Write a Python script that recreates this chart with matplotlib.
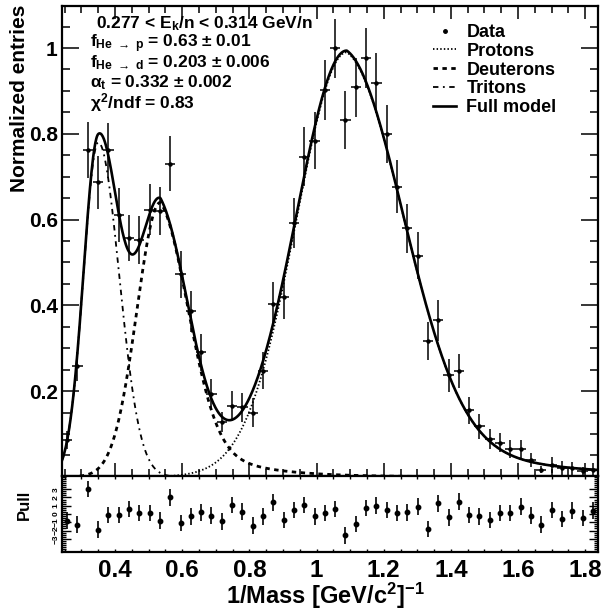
import numpy as np
import matplotlib
matplotlib.use('Agg')
import matplotlib.pyplot as plt
from matplotlib.lines import Line2D
from matplotlib.ticker import MultipleLocator, FixedLocator, FuncFormatter

plt.rcParams['font.family'] = ['Liberation Sans', 'DejaVu Sans']
plt.rcParams['font.weight'] = 'bold'
plt.rcParams['mathtext.fontset'] = 'custom'
plt.rcParams['mathtext.rm'] = 'Liberation Sans:bold'
plt.rcParams['mathtext.it'] = 'Liberation Sans:bold'
plt.rcParams['mathtext.bf'] = 'Liberation Sans:bold'
plt.rcParams['mathtext.sf'] = 'Liberation Sans:bold'

# binning in 1/mass
x_lo, x_hi, n_bins = 0.242, 1.838, 52

# normalized entries per bin and their errors
counts = [0.086, 0.258, 0.762, 0.687, 0.762, 0.611, 0.557, 0.553, 0.623, 0.621,
          0.730, 0.472, 0.386, 0.290, 0.193, 0.128, 0.165, 0.162, 0.150, 0.247,
          0.403, 0.419, 0.592, 0.747, 0.784, 0.902, 0.999, 0.832, 0.908, 0.977,
          0.919, 0.800, 0.677, 0.580, 0.516, 0.317, 0.365, 0.237, 0.247, 0.155,
          0.118, 0.088, 0.080, 0.065, 0.065, 0.040, 0.017, 0.027, 0.020, 0.020,
          0.014, 0.017]
errors = [0.022, 0.034, 0.066, 0.062, 0.064, 0.063, 0.054, 0.056, 0.060, 0.056,
          0.064, 0.054, 0.048, 0.043, 0.035, 0.023, 0.035, 0.033, 0.033, 0.043,
          0.051, 0.051, 0.058, 0.068, 0.066, 0.070, 0.068, 0.068, 0.068, 0.070,
          0.070, 0.067, 0.062, 0.057, 0.054, 0.045, 0.048, 0.039, 0.039, 0.031,
          0.029, 0.023, 0.023, 0.021, 0.021, 0.016, 0.009, 0.019, 0.017, 0.015,
          0.010, 0.015]
pulls = [-0.8, -1.3, 3.0, -1.9, -0.1, -0.1, 0.6, 0.1, 0.1, -0.8,
         2.0, -1.1, -0.3, 0.2, -0.2, -0.9, 1.1, 0.3, -1.4, -0.3,
         1.4, -0.7, 0.5, 1.1, -0.3, 0.1, 0.6, -2.6, -1.2, 0.7,
         1.0, 0.5, 0.1, 0.2, 0.9, -1.8, 1.3, -0.4, 1.5, -0.1,
         -0.3, -0.7, 0.1, 0.1, 0.9, -0.2, -1.3, 0.5, -0.6, 0.4,
         -0.5, 0.4]

# fit components: amplitude, mean, sigma left, sigma right, tail fraction, tail length
tritons = [0.78, 0.350, 0.044, 0.062, 0.0, 1.0]
deuterons = [0.64, 0.535, 0.070, 0.085, 0.25, 0.15]
protons = [0.99, 1.09, 0.150, 0.172, 0.167, 0.32]

edges = np.linspace(x_lo, x_hi, n_bins + 1)
centers = 0.5 * (edges[1:] + edges[:-1])
half = 0.5 * (edges[1] - edges[0])


def component(u, amp, mu, sl, sr, f, tau):
    d = np.clip(u - mu, 0, None)
    left = amp * np.exp(-0.5 * ((u - mu) / sl) ** 2)
    right = amp * ((1 - f) * np.exp(-0.5 * (d / sr) ** 2) + f * np.exp(-d / tau))
    return np.where(u < mu, left, right)


u = np.linspace(x_lo, x_hi, 1000)
T = component(u, *tritons)
D = component(u, *deuterons)
P = component(u, *protons)

W, H = 608, 610
fig = plt.figure(figsize=(W / 100, H / 100), dpi=100)
ax = fig.add_axes([62 / W, 1 - 476 / H, (598 - 62) / W, (476 - 6) / H])
axp = fig.add_axes([62 / W, 1 - 552 / H, (598 - 62) / W, 76 / H], sharex=ax)

ls_p = (0, (0.8, 1.2))
ls_d = (0, (1.6, 1.6))
ls_t = (0, (3, 2.5, 1, 2.5))
ax.plot(u, P, color='k', ls=ls_p, lw=1.3)
ax.plot(u, D, color='k', ls=ls_d, lw=2.0)
ax.plot(u, T, color='k', ls=ls_t, lw=1.3)
ax.plot(u, P + D + T, color='k', lw=1.9)
ax.errorbar(centers, counts, xerr=half, yerr=errors, fmt='o', ms=2.2, color='k',
            elinewidth=1.1, capsize=0)

ax.set_xlim(x_lo, x_hi)
ax.set_ylim(0.002, 1.098)
ax.xaxis.set_major_locator(MultipleLocator(0.2))
ax.xaxis.set_minor_locator(MultipleLocator(0.05))
ax.yaxis.set_major_locator(MultipleLocator(0.2))
ax.yaxis.set_minor_locator(MultipleLocator(0.05))
ax.yaxis.set_major_formatter(FuncFormatter(lambda v, p: f'{v:g}'))
ax.tick_params(which='both', direction='in', top=True, right=True, width=1.1)
ax.tick_params(axis='y', which='major', length=12, labelsize=15, pad=3)
ax.tick_params(axis='y', which='minor', length=6)
ax.tick_params(axis='x', which='major', length=9.5)
ax.tick_params(axis='x', which='minor', length=5)
ax.tick_params(axis='x', labelbottom=False)

axp.errorbar(centers, pulls, yerr=1, fmt='o', ms=3.2, color='k', elinewidth=1.2,
             capsize=0)
axp.set_ylim(-4.6, 4.6)
axp.yaxis.set_major_locator(FixedLocator([-3, -2, -1, 0, 1, 2, 3]))
axp.yaxis.set_minor_locator(MultipleLocator(0.25))
axp.xaxis.set_major_formatter(FuncFormatter(lambda v, p: f'{v:g}'))
axp.tick_params(which='both', direction='in', top=True, right=True, width=1.0)
axp.tick_params(axis='y', which='major', length=6.5, labelsize=6, pad=1.5,
                labelrotation=90)
axp.tick_params(axis='y', which='minor', length=3)
axp.tick_params(axis='x', which='both', length=2, labelsize=17.5, pad=5)
for lab in axp.get_yticklabels():
    lab.set_va('center')

for a in (ax, axp):
    for s in a.spines.values():
        s.set_linewidth(1.6)

fig.text(20 / W, 1 - 5 / H, 'Normalized entries', rotation=90, ha='center',
         va='top', fontsize=15)
fig.text(24 / W, 1 - 505 / H, 'Pull', rotation=90, ha='center', va='center',
         fontsize=12)
fig.text(325 / W, 1 - 596 / H, r'1/Mass [GeV/c$^{2}$]$^{-1}$', ha='center',
         va='center', fontsize=17)

fs = 12.5
fig.text(96 / W, 1 - 28 / H, r'0.277 < E$_{k}$/n < 0.314 GeV/n', fontsize=fs,
         va='baseline')
fig.text(90 / W, 1 - 47 / H, r'f$_{He\ \rightarrow\ p}$ = 0.63 $\pm$ 0.01',
         fontsize=fs, va='baseline')
fig.text(90 / W, 1 - 67 / H, r'f$_{He\ \rightarrow\ d}$ = 0.203 $\pm$ 0.006',
         fontsize=fs, va='baseline')
fig.text(90 / W, 1 - 87 / H, r'$\alpha_{t}$ = 0.332 $\pm$ 0.002', fontsize=fs,
         va='baseline')
fig.text(90 / W, 1 - 108 / H, r'$\chi^{2}$/ndf = 0.83', fontsize=fs,
         va='baseline')

handles = [Line2D([], [], marker='o', ms=2.5, ls='none', color='k'),
           Line2D([], [], color='k', ls=ls_p, lw=1.3),
           Line2D([], [], color='k', ls=ls_d, lw=2.0),
           Line2D([], [], color='k', ls=ls_t, lw=1.3),
           Line2D([], [], color='k', lw=1.9)]
labels = ['Data', 'Protons', 'Deuterons', 'Tritons', 'Full model']
ax.legend(handles, labels, loc='upper left', bbox_to_anchor=(433 / W, 1 - 24 / H),
          bbox_transform=fig.transFigure, frameon=False, fontsize=13,
          handlelength=1.3, handletextpad=0.55, labelspacing=0.1,
          borderpad=0, borderaxespad=0)

fig.savefig('out.png', dpi=100)
